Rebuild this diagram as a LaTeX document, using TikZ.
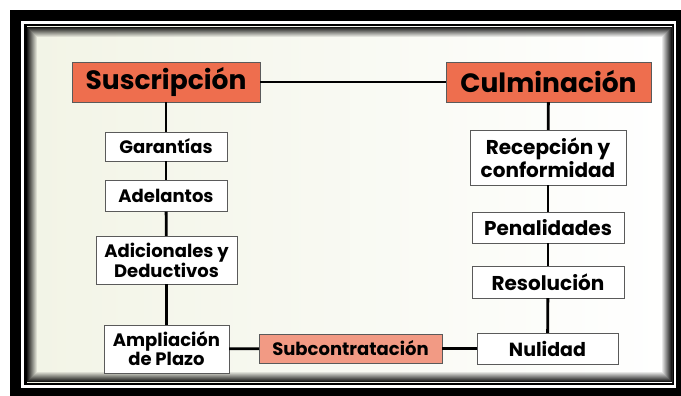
\documentclass[tikz,border=0pt]{standalone}
\usepackage{fontspec}
\setmainfont{Poppins}
\definecolor{rojo}{HTML}{EE6E4E}
\definecolor{salmon}{HTML}{F29A84}
\definecolor{fondo}{HTML}{F2F4E6}
\definecolor{borde}{HTML}{5A5A5A}

\begin{document}
\begin{tikzpicture}[x=1pt,y=-1pt,
    titulo/.style={draw=borde, fill=rojo, inner sep=0pt, minimum height=40pt,
        font=\bfseries\fontsize{26.5}{30}\selectfont},
    caja/.style={draw=borde, fill=white, inner sep=0pt, align=center,
        font=\bfseries\fontsize{18}{19}\selectfont},
    grande/.style={font=\bfseries\fontsize{20}{23}\selectfont},
    enlace/.style={line width=2.8pt}]
    % marco
    \useasboundingbox (0,0) rectangle (681,396);
    \fill[white] (0,0) rectangle (681,396);
    \fill[black] (10,10) rectangle (681,396);
    \fill[white] (21,21) rectangle (676,388);
    \fill[black] (24,24) rectangle (674,385);
    \shade[left color=fondo, right color=white] (27,27) rectangle (672,382);
    \foreach \i in {0,...,9}
        \draw[black, opacity=0.9-0.09*\i, line width=1pt] (27.5+\i,27.5+\i) rectangle (671.5-\i,381.5-\i);

    % cajas
    \node[titulo, minimum width=188pt] (susc) at (166,82) {Suscripción};
    \node[titulo, minimum width=205pt] (culm) at (548.5,82) {Culminación};

    \node[caja, minimum width=122pt, minimum height=29pt] (gar) at (166,146.5) {Garantías};
    \node[caja, minimum width=122pt, minimum height=31pt] (ade) at (166,196) {Adelantos};
    \node[caja, minimum width=141pt, minimum height=48pt] (adi) at (166.5,260) {Adicionales y\\Deductivos};
    \node[caja, minimum width=125pt, minimum height=48pt] (amp) at (166.5,349) {Ampliación\\de Plazo};
    \node[caja, fill=salmon, minimum width=183pt, minimum height=29pt] (sub) at (350.5,348.5) {Subcontratación};

    \node[caja, grande, minimum width=156pt, minimum height=55pt] (rec) at (548,157.5) {Recepción y\\conformidad};
    \node[caja, grande, minimum width=152pt, minimum height=31pt] (pen) at (548,227.5) {Penalidades};
    \node[caja, grande, minimum width=152pt, minimum height=32pt] (res) at (548,282) {Resolución};
    \node[caja, minimum width=141pt, minimum height=31pt, font=\bfseries\fontsize{19}{22}\selectfont] (nul) at (547.5,348.5) {Nulidad};

    % enlaces
    \draw[enlace, line width=2.4pt] (susc) -- (culm);
    \draw[enlace] (susc) -- (gar);
    \draw[enlace] (gar) -- (ade);
    \draw[enlace] (ade) -- (adi);
    \draw[enlace] (adi) -- (amp);
    \draw[enlace] (amp) -- (sub);
    \draw[enlace] (sub) -- (nul);
    \draw[enlace] (culm) -- (rec);
    \draw[enlace] (rec) -- (pen);
    \draw[enlace] (pen) -- (res);
    \draw[enlace] (res) -- (nul);
\end{tikzpicture}
\end{document}
